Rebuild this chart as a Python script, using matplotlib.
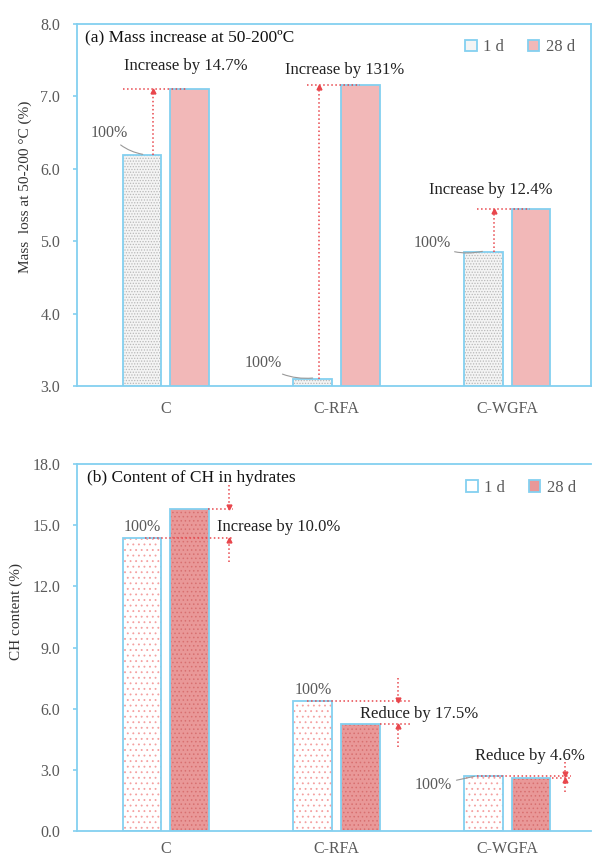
import matplotlib
matplotlib.use("Agg")
import matplotlib.pyplot as plt
from matplotlib.patches import Patch
import numpy as np

plt.rcParams['font.family'] = ['Liberation Serif', 'DejaVu Serif']
plt.rcParams['hatch.linewidth'] = 0.6

categories = ["C", "C-RFA", "C-WGFA"]
mass_1d = [6.19, 3.10, 4.85]
mass_28d = [7.10, 7.16, 5.45]
ch_1d = [14.36, 6.36, 2.70]
ch_28d = [15.80, 5.25, 2.58]
mass_notes = ["Increase by 14.7%", "Increase by 131%", "Increase by 12.4%"]
ch_notes = ["Increase by 10.0%", "Reduce by 17.5%", "Reduce by 4.6%"]

blue = "#84d0f0"
red = "#e8464c"
grey_txt = "#5a5a5a"
x = np.arange(len(categories))
w = 0.225
off = 0.14

fig = plt.figure(figsize=(5.94, 8.59), dpi=100)
ax1 = fig.add_axes([77/594, 1-386/859, 514/594, 362/859])
ax2 = fig.add_axes([77/594, 1-831/859, 514/594, 367/859])


def bars(ax, xs, vals, face, hatch_col, hatch):
    ax.bar(xs, vals, w, color=face, edgecolor=hatch_col, hatch=hatch, linewidth=0, zorder=2)
    ax.bar(xs, vals, w, fill=False, edgecolor=blue, linewidth=1.3, zorder=3)


def style(ax, ymin, ymax, step, xpad):
    ax.set_xlim(-0.52, 2.49)
    ax.set_ylim(ymin, ymax)
    ax.set_yticks(np.arange(ymin, ymax + step / 2, step))
    ax.set_yticklabels([f"{v:.1f}" for v in np.arange(ymin, ymax + step / 2, step)])
    ax.set_xticks(x)
    ax.set_xticklabels(categories)
    for s in ax.spines.values():
        s.set_color(blue)
        s.set_linewidth(1.3)
    ax.tick_params(axis='y', colors=blue, labelcolor=grey_txt, labelsize=11.5,
                   length=3, width=1.2, pad=9)
    ax.tick_params(axis='x', length=0, labelcolor=grey_txt, labelsize=11.5, pad=xpad)


def arrow_up(ax, xv, y0, y1):
    ax.plot([xv, xv], [y0, y1], ls=':', color=red, lw=1.1, zorder=4)
    ax.plot(xv, y1, marker='^', color=red, ms=3.5, zorder=4)


def arrow_down(ax, xv, y0, y1):
    ax.plot([xv, xv], [y0, y1], ls=':', color=red, lw=1.1, zorder=4)
    ax.plot(xv, y1, marker='v', color=red, ms=3.5, zorder=4)


def hline(ax, x0, x1, y):
    ax.plot([x0, x1], [y, y], ls=':', color=red, lw=1.1, zorder=4)


# (a) mass loss at 50-200 C
bars(ax1, x - off, mass_1d, "#f4f4f4", "#b8b8b8", "......")
bars(ax1, x + off, mass_28d, "#f2b8b8", "#f2b8b8", None)
style(ax1, 3.0, 8.0, 1.0, 11)
ax1.text(0.015, 0.985, "(a) Mass increase at 50-200ºC", transform=ax1.transAxes,
         ha='left', va='top', fontsize=12.5, color="#111")
ax1.text(-0.101, 0.55, "Mass  loss at 50-200 °C (%)", transform=ax1.transAxes,
         rotation=90, ha='center', va='center', fontsize=11, color="#333")

# increase arrows and labels
arrow_x = [-0.076, 0.895, 1.92]
line_x = [(-0.25, 0.12), (0.825, 1.135), (1.82, 2.13)]
note_pos = [(-0.246, 7.42), (0.696, 7.36), (1.544, 5.71)]
for i in range(3):
    hline(ax1, line_x[i][0], line_x[i][1], mass_28d[i])
    arrow_up(ax1, arrow_x[i], mass_1d[i], mass_28d[i] - 0.03)
    ax1.text(note_pos[i][0], note_pos[i][1], mass_notes[i], ha='left', va='center',
             fontsize=12, color="#222")

pct_pos = [(-0.222, 6.49), (0.678, 3.32), (1.667, 4.98)]
pct_tip = [(-0.135, 6.20), (0.86, 3.11), (1.854, 4.86)]
for (tx, ty), (px, py) in zip(pct_pos, pct_tip):
    ax1.annotate("100%", xy=(px, py), xytext=(tx, ty), ha='right', va='center',
                 fontsize=11.5, color=grey_txt,
                 arrowprops=dict(arrowstyle='-', color="#999", lw=0.8,
                                 connectionstyle="arc3,rad=0.2", shrinkA=1, shrinkB=0))

leg_a = [Patch(facecolor="#f4f4f4", edgecolor=blue, lw=1.3, label="1 d"),
         Patch(facecolor="#f2b8b8", edgecolor=blue, lw=1.3, label="28 d")]
ax1.legend(handles=leg_a, loc='center', bbox_to_anchor=(0.862, 0.936), ncol=2, frameon=False,
           handlelength=0.7, handleheight=0.7, handletextpad=0.4, columnspacing=1.4,
           fontsize=12, labelcolor=grey_txt)

# (b) CH content
bars(ax2, x - off, ch_1d, "white", "#f4a0a0", "...")
bars(ax2, x + off, ch_28d, "#e99898", "#d87070", "....")
style(ax2, 0.0, 18.0, 3.0, 7)
ax2.spines['right'].set_visible(False)
ax2.text(0.02, 0.985, "(b) Content of CH in hydrates", transform=ax2.transAxes,
         ha='left', va='top', fontsize=12.5, color="#111")
ax2.text(-0.118, 0.597, "CH content (%)", transform=ax2.transAxes,
         rotation=90, ha='center', va='center', fontsize=11, color="#333")

line_1d_x = [(-0.123, 0.392), (0.825, 1.444), (1.82, 2.374)]
line_28d_x = [(0.246, 0.392), (1.257, 1.444), (2.263, 2.374)]
ch_arrow_x = [0.368, 1.357, 2.339]
ch_note_pos = [(0.298, 14.9), (1.135, 5.74), (1.813, 3.68)]
for i in range(3):
    hline(ax2, line_1d_x[i][0], line_1d_x[i][1], ch_1d[i])
    hline(ax2, line_28d_x[i][0], line_28d_x[i][1], ch_28d[i])
    hi, lo = max(ch_1d[i], ch_28d[i]), min(ch_1d[i], ch_28d[i])
    gap = 1.15 if i < 2 else 0.68
    arrow_down(ax2, ch_arrow_x[i], hi + gap, hi + 0.08)
    arrow_up(ax2, ch_arrow_x[i], lo - gap, lo - 0.08)
    ax2.text(ch_note_pos[i][0], ch_note_pos[i][1], ch_notes[i], ha='left', va='center',
             fontsize=12, color="#222", zorder=5,
             bbox=dict(facecolor='white', edgecolor='none', pad=0.5) if i == 1 else None)

ax2.text(-0.14, 14.9, "100%", ha='center', va='center', fontsize=11.5, color=grey_txt)
ax2.text(0.863, 6.91, "100%", ha='center', va='center', fontsize=11.5, color=grey_txt)
ax2.annotate("100%", xy=(1.807, 2.68), xytext=(1.678, 2.25), ha='right', va='center',
             fontsize=11.5, color=grey_txt,
             arrowprops=dict(arrowstyle='-', color="#999", lw=0.8, shrinkA=1, shrinkB=0))

leg_b = [Patch(facecolor="white", edgecolor=blue, lw=1.3, label="1 d"),
         Patch(facecolor="#e99898", edgecolor=blue, lw=1.3, label="28 d")]
ax2.legend(handles=leg_b, loc='center', bbox_to_anchor=(0.864, 0.935), ncol=2, frameon=False,
           handlelength=0.7, handleheight=0.7, handletextpad=0.4, columnspacing=1.4,
           fontsize=12, labelcolor=grey_txt)

fig.savefig("out.png", dpi=100)
